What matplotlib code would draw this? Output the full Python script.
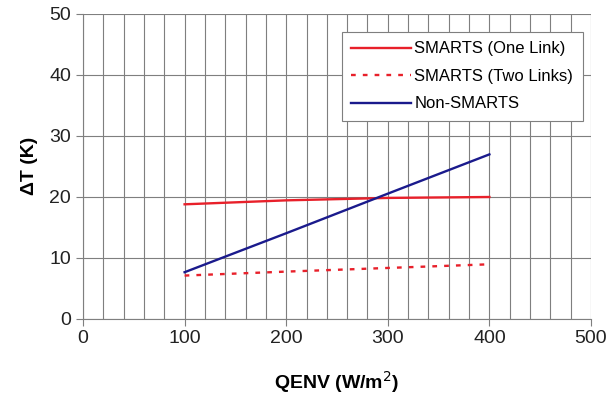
import matplotlib.pyplot as plt
from matplotlib.ticker import MultipleLocator

plt.rcParams['font.family'] = ['Liberation Sans', 'DejaVu Sans']

# data
qenv = [100, 200, 300, 400]
one_link = [18.75, 19.4, 19.8, 19.95]
two_links = [7.05, 7.7, 8.3, 8.9]
non_smarts = [7.6, 14.0, 20.5, 26.95]

fig = plt.figure(figsize=(6.08, 4.01), dpi=100)
ax = fig.add_axes([83 / 608, 1 - 318.5 / 401, 508 / 608, 304.5 / 401])

ax.plot(qenv, one_link, color='#e8202a', lw=1.7, label='SMARTS (One Link)')
ax.plot(qenv, two_links, color='#e8202a', lw=1.7, linestyle=(0, (2, 3)),
        label='SMARTS (Two Links)')
ax.plot(qenv, non_smarts, color='#1a1a8c', lw=1.7, label='Non-SMARTS')

ax.set_xlim(0, 500)
ax.set_ylim(0, 50)
ax.xaxis.set_major_locator(MultipleLocator(100))
ax.xaxis.set_minor_locator(MultipleLocator(20))
ax.yaxis.set_major_locator(MultipleLocator(10))
ax.grid(True, which='major', axis='y', color='#7f7f7f', lw=0.8)
ax.grid(True, which='both', axis='x', color='#7f7f7f', lw=0.8)
ax.set_axisbelow(True)
ax.tick_params(which='minor', length=0)
ax.tick_params(which='major', length=5, color='#7f7f7f', labelsize=14,
               labelcolor='#222222')
for side in ['top', 'right']:
    ax.spines[side].set_visible(False)
for side in ['left', 'bottom']:
    ax.spines[side].set_color('#7f7f7f')

ax.set_xlabel('QENV (W/m$^2$)', fontsize=14, fontweight='bold', labelpad=16)
ax.set_ylabel(r'ΔT (K)', fontsize=14, fontweight='bold', labelpad=8)

leg = ax.legend(loc='upper left', bbox_to_anchor=(259 / 508, 0.94),
                borderaxespad=0, fontsize=12,
                frameon=True, fancybox=False, edgecolor='#7f7f7f',
                framealpha=1, handlelength=3.6, handletextpad=0.2,
                borderpad=0.55, labelspacing=0.75)
leg.get_frame().set_linewidth(0.8)

fig.savefig('out.png', dpi=100)
